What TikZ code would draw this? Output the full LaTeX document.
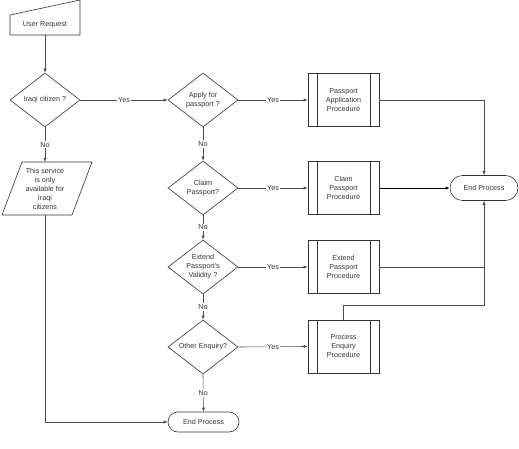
\documentclass[tikz,border=0pt]{standalone}
\usepackage{fontspec}
\setmainfont{Liberation Sans}
\usetikzlibrary{shapes.geometric,shapes.misc,arrows.meta}
\begin{document}
\begin{tikzpicture}[x=1pt,y=-1pt,
  every node/.style={font=\fontsize{7.2}{9}\selectfont, text=black!80, align=center},
  shp/.style={draw=black!80, line width=0.6pt},
  dia/.style={shp, shape=diamond, minimum width=70pt, minimum height=54pt, inner sep=0pt},
  proc/.style={shp, rectangle, minimum width=71pt, minimum height=53pt, inner sep=0pt,
    path picture={\draw[black!80, line width=0.6pt]
      ([xshift=9pt]path picture bounding box.north west) -- ([xshift=9pt]path picture bounding box.south west)
      ([xshift=-9pt]path picture bounding box.north east) -- ([xshift=-9pt]path picture bounding box.south east);}},
  term/.style={shp, rounded rectangle, inner sep=0pt},
  conn/.style={draw=black!70, line width=0.6pt},
  arr/.style={conn, -{Latex[length=4pt,width=3.2pt]}},
  lab/.style={fill=white, inner sep=1pt}
]
\useasboundingbox (0,0) rectangle (519,449);

% User request (manual input)
\node[minimum width=70pt, minimum height=20pt, inner sep=0pt] (ur) at (45,25) {User Request};
\draw[shp] (10,15) -- (80,0) -- (80,35) -- (10,35) -- cycle;

% Decisions
\node[dia] (iraq) at (45,100) {};
\node at (iraq) {Iraqi citizen ?};
\node[dia] (apply) at (203,100) {};
\node at (apply) {Apply for\\passport ?};
\node[dia] (claim) at (203,188) {};
\node at (claim) {Claim\\Passport?};
\node[dia] (extend) at (203,267) {};
\node at (extend) {Extend\\Passport's\\Validity ?};
\node[dia] (other) at (203,347) {};
\node at (other) {Other Enquiry?};

% Parallelogram
\node[minimum width=60pt, minimum height=53pt, inner sep=0pt] (svc) at (45,188.5) {This service\\is only\\available for\\Iraqi\\citizens};
\draw[shp] (22,162) -- (92,162) -- (72,215) -- (2,215) -- cycle;

% Procedures
\node[proc] (pa) at (343.5,100) {Passport\\Application\\Procedure};
\node[proc] (cp) at (343.5,188) {Claim\\Passport\\Procedure};
\node[proc] (ep) at (343.5,267) {Extend\\Passport\\Procedure};
\node[proc] (pe) at (343.5,346.5) {Process\\Enquiry\\Procedure};

% Terminators
\node[term, minimum width=68pt, minimum height=25pt] (endR) at (484,188) {End Process};
\node[term, minimum width=71pt, minimum height=20pt] (endB) at (203.5,422) {End Process};

% Connectors
\draw[arr] (ur.south) -- (iraq.north);
\draw[arr] (iraq.east) -- node[lab] {Yes} (apply.west);
\draw[arr] (iraq.south) -- node[lab] {No} (45,162);
\draw[arr] (45,215) |- (endB.west);

\draw[arr] (apply.east) -- node[lab] {Yes} (pa.west);
\draw[arr] (apply.south) -- node[lab] {No} (claim.north);
\draw[arr] (claim.east) -- node[lab] {Yes} (cp.west);
\draw[arr] (claim.south) -- node[lab] {No} (extend.north);
\draw[arr] (extend.east) -- node[lab] {Yes} (ep.west);
\draw[arr] (extend.south) -- node[lab] {No} (other.north);
\draw[arr] (other.east) -- node[lab] {Yes} (pe.west);
\draw[arr] (other.south) -- node[lab] {No} (endB.north);

\draw[arr] (pa.east) -| (endR.north);
\draw[arr, line width=0.9pt, draw=black] (cp.east) -- (endR.west);
\draw[conn] (ep.east) -- (ep.east -| endR.south);
\draw[arr] (pe.north) -- ++(0,-14) -| (endR.south);
\end{tikzpicture}
\end{document}
